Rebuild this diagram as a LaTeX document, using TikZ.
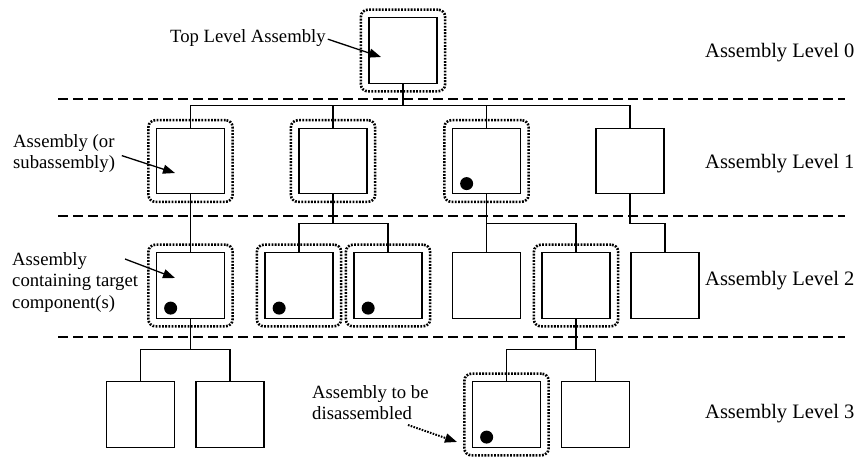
\documentclass[tikz,border=0pt]{standalone}
\usepackage{fontspec}
\setmainfont{Liberation Serif}
\usetikzlibrary{arrows.meta,fit,positioning}

\tikzset{
  part/.style={draw, line width=1.2pt, minimum width=68pt, minimum height=65.5pt, inner sep=0pt},
  target/.style={draw, line width=2.6pt, dash pattern=on 1.8pt off 1.4pt, rounded corners=7pt, inner sep=7.5pt},
  comp/.style={circle, fill, minimum size=13pt, inner sep=0pt},
  link/.style={line width=1.1pt},
  levelline/.style={line width=2.6pt, dash pattern=on 10pt off 5pt},
  lbl/.style={font=\fontsize{18.7}{21.5}\selectfont, inner sep=0pt, align=left},
  levellbl/.style={font=\fontsize{20.5}{24}\selectfont, inner sep=0pt, anchor=base west},
  pointer/.style={line width=1.3pt, -{Triangle[length=12pt,width=9pt]}},
}

\begin{document}
\begin{tikzpicture}[x=1pt,y=-1pt]
\useasboundingbox (0,0) rectangle (859,460);

% level separators
\foreach \y in {99,216,337}
    \draw [levelline] (58,\y) -- (845,\y);

% parts
\node [part] (top) at (403,50.5) {};

\node [part] (l1a) at (190.5,161) {};
\node [part] (l1b) at (333,161) {};
\node [part] (l1c) at (486.5,161) {};
\node [part] (l1d) at (630,161) {};

\node [part] (l2a) at (190.5,285.5) {};
\node [part] (l2b) at (299,285.5) {};
\node [part] (l2c) at (388,285.5) {};
\node [part] (l2d) at (486.5,285.5) {};
\node [part] (l2e) at (576,285.5) {};
\node [part] (l2f) at (665,285.5) {};

\node [part] (l3a) at (140.5,414.5) {};
\node [part] (l3b) at (230,414.5) {};
\node [part] (l3c) at (506.5,414.5) {};
\node [part] (l3d) at (595.5,414.5) {};

% links
\draw [link] (top.south) -- ++(0,22) coordinate (j0);
\foreach \n in {l1a,l1b,l1c,l1d}
    \draw [link] (j0) -| (\n.north);

\draw [link] (l1a) -- (l2a);
\draw [link] (l1b.south) -- ++(0,29) coordinate (j1b);
\foreach \n in {l2b,l2c}
    \draw [link] (j1b) -| (\n.north);
\draw [link] (l1c.south) -- ++(0,29) coordinate (j1c);
\foreach \n in {l2d,l2e}
    \draw [link] (j1c) -| (\n.north);
\draw [link] (l1d.south) -- ++(0,29) -| (l2f.north);

\draw [link] (l2a.south) -- ++(0,31) coordinate (j2a);
\foreach \n in {l3a,l3b}
    \draw [link] (j2a) -| (\n.north);
\draw [link] (l2e.south) -- ++(0,31) coordinate (j2e);
\foreach \n in {l3c,l3d}
    \draw [link] (j2e) -| (\n.north);

% assemblies on the path
\foreach \n in {top,l1a,l1b,l1c,l2a,l2b,l2c,l2e,l3c}
    \node [target, fit=(\n)] (t-\n) {};

% target components
\foreach \n in {l1c,l2a,l2b,l2c,l3c}
    \node [comp, above right=6pt and 10pt of \n.south west] (d-\n) {};

% labels
\node [lbl, anchor=base west] (toplbl) at (170,43) {Top Level Assembly};
\node [lbl, anchor=north west] (asmlbl) at (13,134) {Assembly (or\\subassembly)};
\node [lbl, anchor=north west] (ctlbl) at (12,252) {Assembly\\containing target\\component(s)};
\node [lbl, anchor=north west] (dislbl) at (312,385) {Assembly to be\\disassembled};

\foreach \i/\y in {0/58,1/168,2/285,3/418}
    \node [levellbl] (lev\i) at (705,\y) {Assembly Level \i};

\coordinate (toptip) at (381,57);
\coordinate (asmtip) at (175,173);
\coordinate (cttail) at (125,259);
\coordinate (cttip) at (175,278);
\coordinate (distail) at (408,425);
\coordinate (distip) at (457,442);

\draw [pointer, shorten <=2pt] (toplbl.east) -- (toptip);
\draw [pointer, shorten <=7pt] (asmlbl.east) -- (asmtip);
\draw [pointer] (cttail) -- (cttip);
\draw [pointer, line width=2pt, dash pattern=on 1.6pt off 1.3pt] (distail) -- (distip);

\end{tikzpicture}
\end{document}
